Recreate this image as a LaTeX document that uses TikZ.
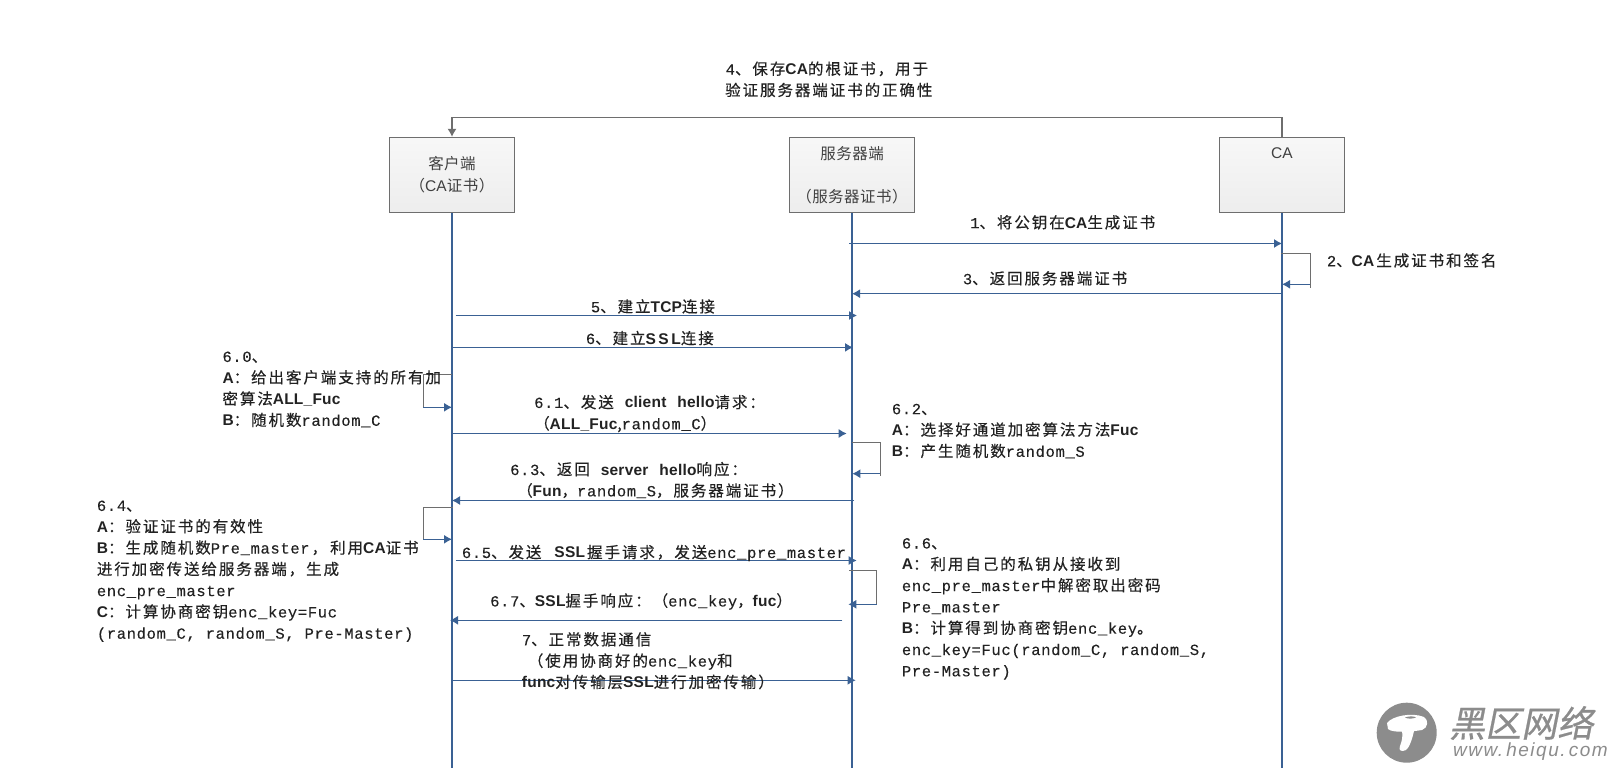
\documentclass[tikz,border=0pt]{standalone}
\usepackage{fontspec}
\usetikzlibrary{arrows.meta}
\setmainfont[LetterSpace=12.5,FakeBold=0.3]{Noto Sans CJK SC}
\newfontfamily\monf[LetterSpace=4.2,FakeBold=0.15]{Liberation Mono}
\newfontfamily\latf[LetterSpace=1.5]{Liberation Sans Bold}
\newfontfamily\boxzh[LetterSpace=3.2]{Noto Sans CJK SC}
\newfontfamily\boxlat{Liberation Sans}
\newfontfamily\wmzh[FakeSlant=0.2,FakeBold=0.6]{Noto Sans CJK SC}
\newfontfamily\wmlat[LetterSpace=8]{Liberation Sans Italic}
\newcommand{\mon}[1]{{\monf #1}}
\newcommand{\lat}[1]{{\latf #1}}
\newcommand{\fl}{\rule{0pt}{11pt}}
\definecolor{lifeblue}{HTML}{3A6194}
\definecolor{loopgray}{HTML}{6E6E6E}
\definecolor{txt}{HTML}{222222}
\definecolor{boxtxt}{HTML}{404040}
\definecolor{wm}{HTML}{8C8C8C}
\tikzset{
  actor/.style={draw=loopgray,line width=1pt,top color=white!97!black,bottom color=white!93!black,
    minimum width=125.5pt,minimum height=75pt,inner sep=0pt,align=center,text=boxtxt,
    font=\fontsize{15.5}{21.5}\selectfont\boxzh},
  life/.style={draw=lifeblue,line width=1.2pt},
  msg/.style={draw=lifeblue,line width=1.2pt,-{Latex[length=8pt,width=9pt]}},
  loopline/.style={draw=loopgray,line width=1pt},
  caline/.style={draw=loopgray,line width=1.1pt,-{Latex[length=8pt,width=9pt]}},
  lab/.style={anchor=north west,inner sep=0pt,align=left,text=txt,
    font=\fontsize{15.5}{21.3}\selectfont},
  wmark/.style={text=wm,inner sep=0pt,anchor=west}
}
\begin{document}
\begin{tikzpicture}[x=1pt,y=-1pt]
\useasboundingbox (0,0) rectangle (1609,768);
\fill[white] (0,0) rectangle (1609,768);

% actors
\node[actor] (client) at (452,174.8) {客户端\\（\boxlat CA\boxzh 证书）};
\node[actor] (server) at (852,174.8) {服务器端\\ \\（服务器证书）};
\node[actor] (ca) at (1282,174.8) {\boxlat CA\\ \\ };

% lifelines
\coordinate (clientEnd) at (452,768);
\coordinate (serverEnd) at (852,768);
\coordinate (caEnd) at (1282,768);
\draw[life] (client.south) -- (clientEnd);
\draw[life] (server.south) -- (serverEnd);
\draw[life] (ca.south) -- (caEnd);

% step 4
\coordinate (t4) at (866,117.7);
\draw[caline] (ca.north) |- (t4) -| (client.north);
\node[lab,align=left] (l4) at (725,61.3) {\fl\hspace*{0.5pt}\mon{4}、保存\lat{CA}的根证书，用于\\验证服务器端证书的正确性};

% step 1
\coordinate (m1a) at (849,243.5); \coordinate (m1b) at (1282,243.5);
\draw[msg] (m1a) -- (m1b);
\node[lab] (l1) at (970,215) {\fl\mon{1}、将公钥在\lat{CA}生成证书};

% step 2
\coordinate (s2a) at (1281,253.3); \coordinate (s2b) at (1310.3,253.3); \coordinate (s2c) at (1310.3,288.3);
\coordinate (s2d) at (1310.3,284.3); \coordinate (s2e) at (1282,284.3);
\draw[loopline] (s2a) -- (s2b) -- (s2c);
\draw[msg] (s2d) -- (s2e);
\node[lab] (l2) at (1326.7,253) {\fl\mon{2}、\lat{CA}\hspace*{2pt}生成证书和签名};

% step 3
\coordinate (m3a) at (1282,293.7); \coordinate (m3b) at (852,293.7);
\draw[msg] (m3a) -- (m3b);
\node[lab] (l3) at (962.7,271) {\fl\mon{3}、返回服务器端证书};

% step 5
\coordinate (m5a) at (455.6,315.5); \coordinate (m5b) at (857,315.5);
\draw[msg] (m5a) -- (m5b);
\node[lab] (l5) at (590.7,299) {\fl\mon{5}、建立\lat{TCP}连接};

% step 6
\coordinate (m6a) at (452,347.4); \coordinate (m6b) at (853,347.4);
\draw[msg] (m6a) -- (m6b);
\node[lab] (l6) at (585.7,330.7) {\fl\mon{6}、建立\lat{S\,S\,L}连接};

% step 6.0
\coordinate (s60a) at (452,374); \coordinate (s60b) at (423.3,374); \coordinate (s60c) at (423.3,408);
\coordinate (s60d) at (423.3,407.3); \coordinate (s60e) at (452,407.3);
\draw[loopline] (s60a) -- (s60b) -- (s60c);
\draw[msg] (s60d) -- (s60e);
\node[lab] (l60) at (222.3,350.7) {\fl\mon{6.0}、\\\lat{A}：给出客户端支持的所有加\\密算法\lat{ALL\_Fuc}\\\lat{B}：随机数\mon{random\_C}};

% step 6.1
\coordinate (m61a) at (452.5,433.5); \coordinate (m61b) at (846.7,433.5);
\draw[msg] (m61a) -- (m61b);
\node[lab] (l61) at (534,394.7) {\fl\mon{6.1}、发送\hspace*{11pt}\lat{client}\hspace*{11pt}\lat{hello}请求：\\（\lat{ALL\_Fuc},\mon{random\_C}）};

% step 6.2
\coordinate (s62a) at (851.7,442.3); \coordinate (s62b) at (880.3,442.3); \coordinate (s62c) at (880.3,475.7);
\coordinate (s62d) at (880.3,473.7); \coordinate (s62e) at (852.3,473.7);
\draw[loopline] (s62a) -- (s62b) -- (s62c);
\draw[msg] (s62d) -- (s62e);
\node[lab] (l62) at (891.7,403) {\fl\mon{6.2}、\\\lat{A}：选择好通道加密算法方法\lat{Fuc}\\\lat{B}：产生随机数\mon{random\_S}};

% step 6.3
\coordinate (m63a) at (854,500.5); \coordinate (m63b) at (452,500.5);
\draw[msg] (m63a) -- (m63b);
\node[lab] (l63) at (510,461.7) {\fl\mon{6.3}、返回\hspace*{11pt}\lat{server}\hspace*{11pt}\lat{hello}响应：\\\hspace*{7pt}（\lat{Fun}，\mon{random\_S}，服务器端证书）};

% step 6.4
\coordinate (s64a) at (453,507.3); \coordinate (s64b) at (423.3,507.3); \coordinate (s64c) at (423.3,539.3);
\coordinate (s64d) at (423.3,539.3); \coordinate (s64e) at (452,539.3);
\draw[loopline] (s64a) -- (s64b) -- (s64c);
\draw[msg] (s64d) -- (s64e);
\node[lab] (l64) at (96.7,499.7) {\fl\mon{6.4}、\\\lat{A}：验证证书的有效性\\\lat{B}：生成随机数\mon{Pre\_master}\hspace*{2pt}，\hspace*{3pt}利用\lat{CA}证书\\进行加密传送给服务器端，生成\\\mon{enc\_pre\_master}\\\lat{C}：计算协商密钥\mon{enc\_key=Fuc}\\\mon{(random\_C,\ random\_S,\ Pre-Master)}};

% step 6.5
\coordinate (m65a) at (455.7,560.5); \coordinate (m65b) at (856.7,560.5);
\draw[msg] (m65a) -- (m65b);
\node[lab] (l65) at (461.7,544.7) {\fl\mon{6.5}、发送\hspace*{13pt}\lat{SSL}\hspace*{2pt}握手请求，\hspace*{2pt}发送\mon{enc\_pre\_master}};

% step 6.6
\coordinate (s66a) at (849.3,570.3); \coordinate (s66b) at (876.7,570.3); \coordinate (s66c) at (876.7,605);
\coordinate (s66d) at (876.7,604.3); \coordinate (s66e) at (848.3,604.3);
\draw[loopline] (s66a) -- (s66b) -- (s66c);
\draw[msg] (s66d) -- (s66e);
\node[lab] (l66) at (901.7,537.3) {\fl\mon{6.6}、\\\lat{A}：利用自己的私钥从接收到\\\mon{enc\_pre\_master}中解密取出密码\\\mon{Pre\_master}\\\lat{B}：计算得到协商密钥\mon{enc\_key}。\\\mon{enc\_key=Fuc(random\_C,\ random\_S,}\\\mon{Pre-Master)}};

% step 6.7
\coordinate (m67a) at (842.3,620.3); \coordinate (m67b) at (450,620.3);
\draw[msg] (m67a) -- (m67b);
\node[lab] (l67) at (490,593) {\fl\mon{6.7}、\lat{SSL}握手响应：（\mon{enc\_key}，\lat{fuc}）};

% step 7
\coordinate (m7a) at (452,680.3); \coordinate (m7b) at (855.7,680.3);
\draw[msg] (m7a) -- (m7b);
\node[lab] (l7) at (521.7,632) {\fl\mon{7}、正常数据通信\\\hspace*{6pt}（使用协商好的\mon{enc\_key}和\\\lat{func}对传输层\lat{SSL}进行加密传输）};

% watermark
\fill[wm] (1406.7,732.7) circle (30);
\fill[white] (1387,723) .. controls (1392,716) and (1412,712) .. (1424,717)
  .. controls (1429,720) and (1428,728) .. (1422,730)
  .. controls (1410,732) and (1392,733) .. (1388,729) -- cycle;
\fill[white] (1402,731) -- (1414,731) .. controls (1412,740) and (1409,748) .. (1406,750)
  .. controls (1402,752) and (1398,751) .. (1400,746) .. controls (1402,741) and (1403,736) .. (1402,731) -- cycle;
\fill[wm] (1405,717.5) .. controls (1409,716) and (1414,716) .. (1416,717.5) .. controls (1412,719) and (1408,719) .. (1405,717.5) -- cycle;
\node[wmark,font=\fontsize{36}{36}\selectfont\wmzh] (wm1) at (1449,723) {黑区网络};
\node[wmark,font=\fontsize{19}{19}\selectfont\wmlat] (wm2) at (1453,751.7) {www.\,heiqu.\,com};
\end{tikzpicture}
\end{document}
